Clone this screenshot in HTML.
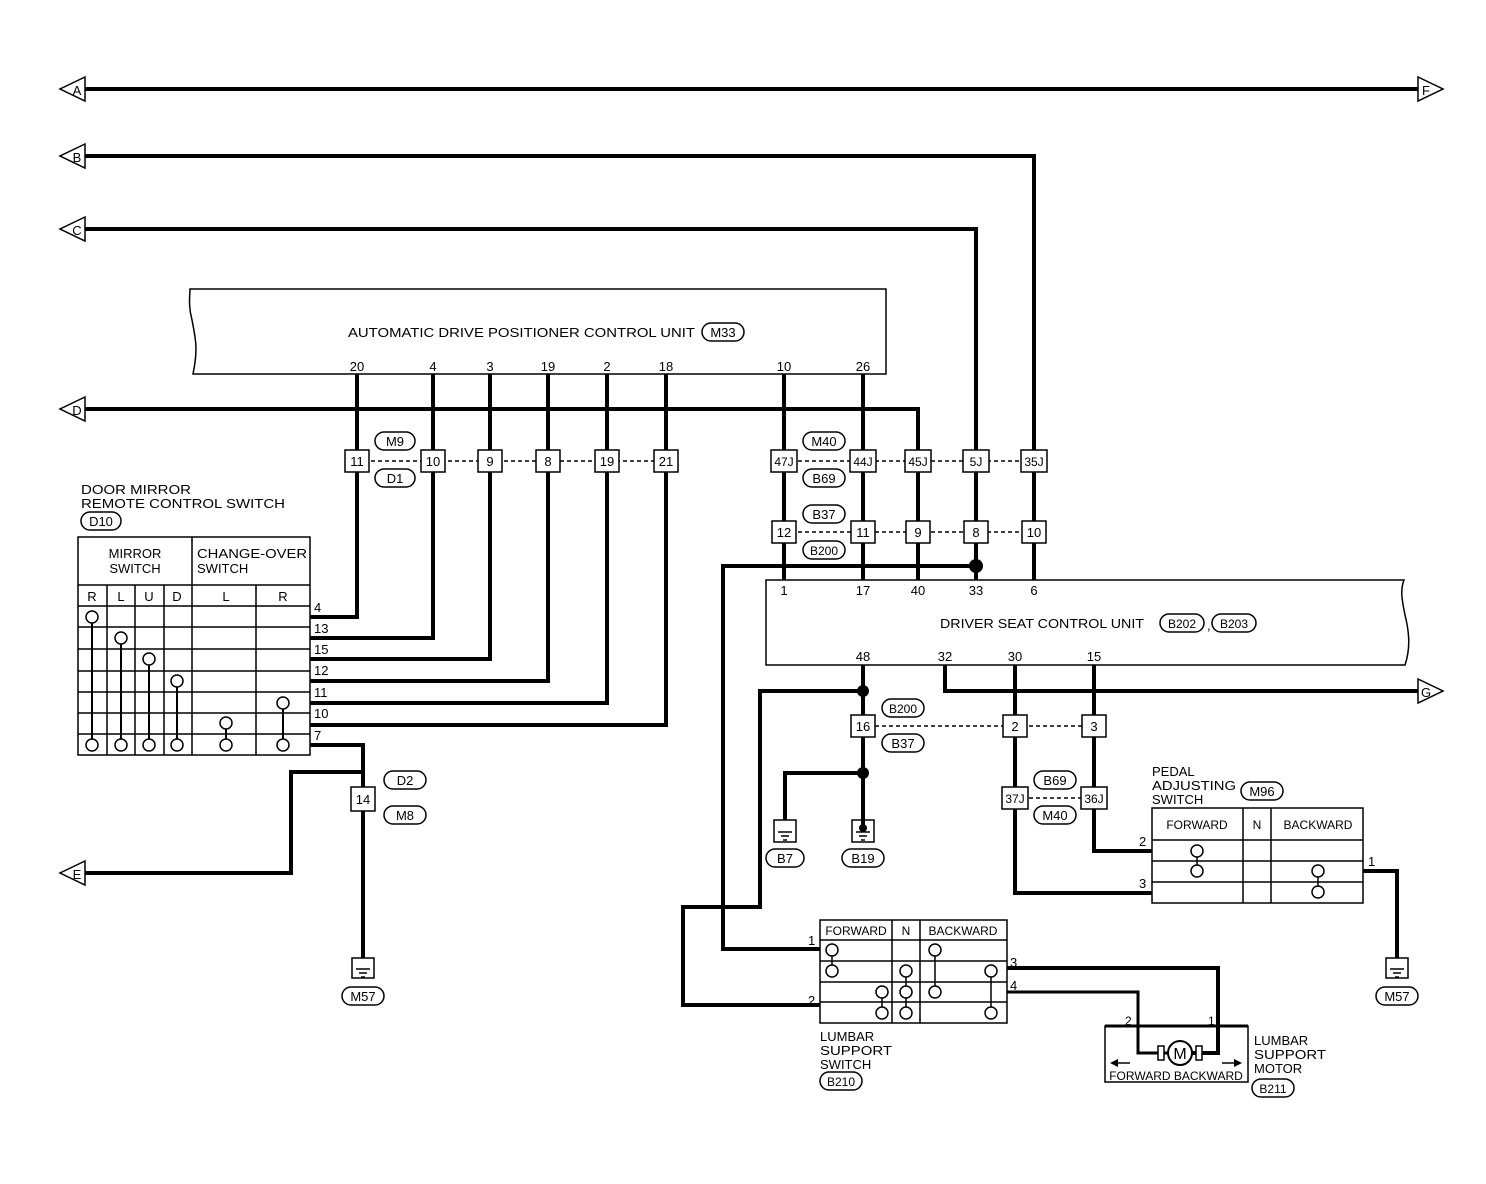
<!DOCTYPE html>
<html><head><meta charset="utf-8"><style>
html,body{margin:0;padding:0;background:#fff;}
svg{display:block;}
text{font-family:"Liberation Sans",sans-serif;font-size:13px;fill:#000;}
.w{stroke:#000;stroke-width:4;fill:none;}
.t{stroke:#000;stroke-width:1.5;fill:none;}
.d{stroke:#000;stroke-width:1.5;stroke-dasharray:4,3;fill:none;}
.bx{stroke:#000;stroke-width:1.5;fill:#fff;}
.c{stroke:#000;stroke-width:1.5;fill:#fff;}
.m{text-anchor:middle;}
</style></head><body>
<svg width="1486" height="1184" viewBox="0 0 1486 1184" xmlns="http://www.w3.org/2000/svg">
<path class="w" d="M85 89H1418"/>
<path class="w" d="M85 156H1034V450"/>
<path class="w" d="M85 229H976V450"/>
<path class="w" d="M85 409H918V450"/>
<path class="w" d="M85 873H291V772H363"/>
<path class="w" d="M945 665V691H1418"/>
<g class="t">
<path d="M85 77L60 89L85 101Z" fill="#fff"/>
<path d="M85 144L60 156L85 168Z" fill="#fff"/>
<path d="M85 217L60 229L85 241Z" fill="#fff"/>
<path d="M85 397L60 409L85 421Z" fill="#fff"/>
<path d="M85 861L60 873L85 885Z" fill="#fff"/>
<path d="M1418 77L1443 89L1418 101Z" fill="#fff"/>
<path d="M1418 679L1443 691L1418 703Z" fill="#fff"/>
</g>
<text x="77" y="95" class="m" style="font-size:13px">A</text>
<text x="77" y="162" class="m" style="font-size:13px">B</text>
<text x="77" y="235" class="m" style="font-size:13px">C</text>
<text x="77" y="415" class="m" style="font-size:13px">D</text>
<text x="77" y="879" class="m" style="font-size:13px">E</text>
<text x="1426" y="95" class="m" style="font-size:13px">F</text>
<text x="1426" y="697" class="m" style="font-size:13px">G</text>

<path class="t" d="M190 289H886V374H193 C198 350,196 340,192 320 C188 305,190 295,190 289Z" fill="#fff"/>
<text x="348" y="337" textLength="347" lengthAdjust="spacingAndGlyphs">AUTOMATIC DRIVE POSITIONER CONTROL UNIT</text>
<rect class="t" x="702" y="323" width="42" height="18" rx="9"/>
<text x="723" y="337" class="m">M33</text>
<g class="m">
<text x="357" y="371">20</text><text x="433" y="371">4</text><text x="490" y="371">3</text>
<text x="548" y="371">19</text><text x="607" y="371">2</text><text x="666" y="371">18</text>
<text x="784" y="371">10</text><text x="863" y="371">26</text>
</g>
<path class="w" d="M357 374V617H310"/>
<path class="w" d="M433 374V638H310"/>
<path class="w" d="M490 374V659H310"/>
<path class="w" d="M548 374V681H310"/>
<path class="w" d="M607 374V703H310"/>
<path class="w" d="M666 374V725H310"/>
<path class="w" d="M310 745H363V958"/>
<path class="d" d="M357 461H666"/>
<g class="bx">
<rect x="345" y="450" width="24" height="22"/><rect x="421" y="450" width="24" height="22"/>
<rect x="478" y="450" width="24" height="22"/><rect x="536" y="450" width="24" height="22"/>
<rect x="595" y="450" width="24" height="22"/><rect x="654" y="450" width="24" height="22"/>
</g>
<g class="m">
<text x="357" y="466">11</text><text x="433" y="466">10</text><text x="490" y="466">9</text>
<text x="548" y="466">8</text><text x="607" y="466">19</text><text x="666" y="466">21</text>
</g>
<rect class="c" x="375" y="432" width="40" height="18" rx="9"/><text x="395" y="446" class="m">M9</text>
<rect class="c" x="375" y="469" width="40" height="18" rx="9"/><text x="395" y="483" class="m">D1</text>

<path class="w" d="M784 374V580"/>
<path class="w" d="M863 374V580"/>
<path class="w" d="M918 450V580"/>
<path class="w" d="M976 450V580"/>
<path class="w" d="M1034 450V580"/>
<path class="d" d="M784 461H1034"/>
<path class="d" d="M784 532H1034"/>
<g class="bx">
<rect x="771" y="450" width="26" height="22"/><rect x="850" y="450" width="26" height="22"/>
<rect x="905" y="450" width="26" height="22"/><rect x="963" y="450" width="26" height="22"/>
<rect x="1021" y="450" width="26" height="22"/>
<rect x="772" y="521" width="24" height="22"/><rect x="851" y="521" width="24" height="22"/>
<rect x="906" y="521" width="24" height="22"/><rect x="964" y="521" width="24" height="22"/>
<rect x="1022" y="521" width="24" height="22"/>
</g>
<g class="m">
<text x="784" y="466" style="font-size:12px">47J</text><text x="863" y="466" style="font-size:12px">44J</text>
<text x="918" y="466" style="font-size:12px">45J</text><text x="976" y="466" style="font-size:12px">5J</text>
<text x="1034" y="466" style="font-size:12px">35J</text>
</g>
<g class="m">
<text x="784" y="537">12</text><text x="863" y="537">11</text><text x="918" y="537">9</text>
<text x="976" y="537">8</text><text x="1034" y="537">10</text>
</g>
<rect class="c" x="803" y="432" width="42" height="18" rx="9"/><text x="824" y="446" class="m">M40</text>
<rect class="c" x="803" y="469" width="42" height="18" rx="9"/><text x="824" y="483" class="m">B69</text>
<rect class="c" x="803" y="505" width="42" height="18" rx="9"/><text x="824" y="519" class="m">B37</text>
<rect class="c" x="803" y="541" width="42" height="18" rx="9"/><text x="824" y="555" class="m" style="font-size:12px">B200</text>

<path class="w" d="M976 566H723V949H820"/>
<circle cx="976" cy="566" r="7" fill="#000"/>

<path class="t" d="M766 580H1404 C1400 590,1402 600,1405 615 C1410 635,1410 650,1405 665H766Z" fill="#fff"/>
<g class="m">
<text x="784" y="595">1</text><text x="863" y="595">17</text><text x="918" y="595">40</text>
<text x="976" y="595">33</text><text x="1034" y="595">6</text>
<text x="863" y="661">48</text><text x="945" y="661">32</text><text x="1015" y="661">30</text><text x="1094" y="661">15</text>
</g>
<text x="940" y="628" textLength="204" lengthAdjust="spacingAndGlyphs">DRIVER SEAT CONTROL UNIT</text>
<rect class="c" x="1160" y="614" width="44" height="18" rx="9"/><text x="1182" y="628" class="m" style="font-size:12px">B202</text>
<text x="1207" y="630">,</text>
<rect class="c" x="1212" y="614" width="44" height="18" rx="9"/><text x="1234" y="628" class="m" style="font-size:12px">B203</text>

<path class="w" d="M863 665V819"/>
<path class="w" d="M863 691H760V907H683V1005H820"/>
<circle cx="863" cy="691" r="6" fill="#000"/>
<path class="w" d="M863 773H785V820"/>
<circle cx="863" cy="773" r="6" fill="#000"/>
<rect class="bx" x="851" y="715" width="24" height="22"/><text x="863" y="731" class="m">16</text>
<rect class="c" x="882" y="699" width="42" height="18" rx="9"/><text x="903" y="713" class="m" style="font-size:12px">B200</text>
<rect class="c" x="882" y="734" width="42" height="18" rx="9"/><text x="903" y="748" class="m">B37</text>
<path class="d" d="M875 726H1082"/>
<path class="w" d="M1015 665V893H1152"/>
<path class="w" d="M1094 665V851H1152"/>
<rect class="bx" x="1003" y="715" width="24" height="22"/><text x="1015" y="731" class="m">2</text>
<rect class="bx" x="1082" y="715" width="24" height="22"/><text x="1094" y="731" class="m">3</text>
<path class="d" d="M1015 798H1094"/>
<rect class="bx" x="1002" y="787" width="26" height="22"/><text x="1015" y="803" class="m" style="font-size:12px">37J</text>
<rect class="bx" x="1081" y="787" width="26" height="22"/><text x="1094" y="803" class="m" style="font-size:12px">36J</text>
<rect class="c" x="1034" y="771" width="42" height="18" rx="9"/><text x="1055" y="785" class="m">B69</text>
<rect class="c" x="1034" y="806" width="42" height="18" rx="9"/><text x="1055" y="820" class="m">M40</text>

<g class="t">
<rect x="774" y="820" width="22" height="22" fill="#fff"/><path d="M778 832H792M781 836H789M783 840H787"/>
<rect x="852" y="820" width="22" height="22" fill="#fff"/><path d="M856 832H870M859 836H867M861 840H865"/>
<rect x="352" y="958" width="22" height="20" fill="#fff"/><path d="M356 969H370M359 973H367M361 977H365"/>
<rect x="1386" y="958" width="22" height="20" fill="#fff"/><path d="M1390 969H1404M1393 973H1401M1395 977H1399"/>
</g>
<path class="w" d="M863 819V828"/>
<circle cx="863" cy="828" r="4" fill="#000"/>
<rect class="c" x="766" y="849" width="38" height="18" rx="9"/><text x="785" y="863" class="m">B7</text>
<rect class="c" x="842" y="849" width="42" height="18" rx="9"/><text x="863" y="863" class="m">B19</text>
<rect class="c" x="342" y="987" width="42" height="18" rx="9"/><text x="363" y="1001" class="m">M57</text>
<rect class="c" x="1376" y="987" width="42" height="18" rx="9"/><text x="1397" y="1001" class="m">M57</text>

<rect class="bx" x="351" y="787" width="24" height="24"/><text x="363" y="804" class="m">14</text>
<rect class="c" x="384" y="771" width="42" height="18" rx="9"/><text x="405" y="785" class="m">D2</text>
<rect class="c" x="384" y="806" width="42" height="18" rx="9"/><text x="405" y="820" class="m">M8</text>

<text x="81" y="494" textLength="110" lengthAdjust="spacingAndGlyphs">DOOR MIRROR</text>
<text x="81" y="508" textLength="204" lengthAdjust="spacingAndGlyphs">REMOTE CONTROL SWITCH</text>
<rect class="c" x="81" y="512" width="40" height="18" rx="9"/><text x="101" y="526" class="m">D10</text>
<g class="t">
<rect x="78" y="537" width="232" height="218" fill="#fff"/>
<path d="M192 537V755M78 585H310M78 606H310M78 627H310M78 649H310M78 671H310M78 692H310M78 713H310M78 734H310"/>
<path d="M107 585V755M135 585V755M164 585V755M256 585V755"/>
</g>
<text x="135" y="558" class="m">MIRROR</text><text x="135" y="573" class="m">SWITCH</text>
<text x="197" y="558" textLength="110" lengthAdjust="spacingAndGlyphs">CHANGE-OVER</text><text x="197" y="573">SWITCH</text>
<g class="m" style="font-size:12px">
<text x="92" y="601">R</text><text x="121" y="601">L</text><text x="149" y="601">U</text><text x="177" y="601">D</text>
<text x="226" y="601">L</text><text x="283" y="601">R</text>
</g>
<g class="t"><path d="M92 617V745M121 638V745M149 659V745M177 681V745M226 723V745M283 703V745" style="stroke-width:2"/></g>
<g class="c">
<circle cx="92" cy="617" r="6"/><circle cx="121" cy="638" r="6"/><circle cx="149" cy="659" r="6"/><circle cx="177" cy="681" r="6"/>
<circle cx="283" cy="703" r="6"/><circle cx="226" cy="723" r="6"/>
<circle cx="92" cy="745" r="6"/><circle cx="121" cy="745" r="6"/><circle cx="149" cy="745" r="6"/><circle cx="177" cy="745" r="6"/>
<circle cx="226" cy="745" r="6"/><circle cx="283" cy="745" r="6"/>
</g>
<g style="font-size:12px">
<text x="314" y="612">4</text><text x="314" y="633">13</text><text x="314" y="654">15</text><text x="314" y="675">12</text>
<text x="314" y="697">11</text><text x="314" y="718">10</text><text x="314" y="740">7</text>
</g>

<text x="1152" y="776">PEDAL</text><text x="1152" y="790" textLength="84" lengthAdjust="spacingAndGlyphs">ADJUSTING</text><text x="1152" y="804">SWITCH</text>
<rect class="c" x="1241" y="782" width="42" height="18" rx="9"/><text x="1262" y="796" class="m">M96</text>
<g class="t">
<rect x="1152" y="808" width="211" height="95" fill="#fff"/>
<path d="M1152 840H1363M1152 861H1363M1152 882H1363M1243 808V903M1271 808V903"/>
<path d="M1197 851V871M1318 871V892"/>
</g>
<text x="1197" y="829" class="m" style="font-size:12px">FORWARD</text>
<text x="1257" y="829" class="m" style="font-size:12px">N</text>
<text x="1318" y="829" class="m" style="font-size:12px">BACKWARD</text>
<g class="c"><circle cx="1197" cy="851" r="6"/><circle cx="1197" cy="871" r="6"/><circle cx="1318" cy="871" r="6"/><circle cx="1318" cy="892" r="6"/></g>
<text x="1139" y="846">2</text><text x="1139" y="888">3</text><text x="1368" y="866">1</text>
<path class="w" d="M1363 871H1397V958"/>

<g class="t">
<rect x="820" y="920" width="187" height="103" fill="#fff"/>
<path d="M820 940H1007M820 961H1007M820 982H1007M820 1002H1007M892 920V1023M920 920V1023"/>
<path d="M832 950V971M882 992V1013M906 971V1013M935 950V992M991 971V1013"/>
</g>
<text x="856" y="935" class="m" style="font-size:12px">FORWARD</text>
<text x="906" y="935" class="m" style="font-size:12px">N</text>
<text x="963" y="935" class="m" style="font-size:12px">BACKWARD</text>
<g class="c">
<circle cx="832" cy="950" r="6"/><circle cx="832" cy="971" r="6"/>
<circle cx="882" cy="992" r="6"/><circle cx="882" cy="1013" r="6"/>
<circle cx="906" cy="971" r="6"/><circle cx="906" cy="992" r="6"/><circle cx="906" cy="1013" r="6"/>
<circle cx="935" cy="950" r="6"/><circle cx="935" cy="992" r="6"/>
<circle cx="991" cy="971" r="6"/><circle cx="991" cy="1013" r="6"/>
</g>
<text x="808" y="945">1</text><text x="808" y="1005">2</text>
<text x="1010" y="967">3</text><text x="1010" y="990">4</text>
<text x="820" y="1041">LUMBAR</text><text x="820" y="1055" textLength="72" lengthAdjust="spacingAndGlyphs">SUPPORT</text><text x="820" y="1069">SWITCH</text>
<rect class="c" x="820" y="1072" width="42" height="18" rx="9"/><text x="841" y="1086" class="m" style="font-size:12px">B210</text>

<path class="w" d="M1007 968H1218V1053H1192"/>
<path class="w" d="M1007 992H1138V1053H1168" style="stroke-width:3"/>
<path class="w" d="M1218 1053H1192" style="stroke-width:3"/>
<rect class="t" x="1105" y="1026" width="143" height="56" fill="none"/>
<path class="w" d="M1105 1026H1248" style="stroke-width:3"/>
<rect class="bx" x="1158" y="1046" width="6" height="14"/><rect class="bx" x="1196" y="1046" width="6" height="14"/>
<circle class="c" cx="1180" cy="1053" r="12" style="stroke-width:2"/>
<text x="1180" y="1059" class="m" style="font-size:16px">M</text>
<path class="t" d="M1112 1063H1130M1222 1063H1240"/>
<path d="M1110 1063L1118 1059V1067Z M1242 1063L1234 1059V1067Z" fill="#000"/>
<text x="1176" y="1080" class="m" style="font-size:12px">FORWARD BACKWARD</text>
<text x="1125" y="1025" style="font-size:12px">2</text><text x="1208" y="1025" style="font-size:12px">1</text>
<text x="1254" y="1045">LUMBAR</text><text x="1254" y="1059" textLength="72" lengthAdjust="spacingAndGlyphs">SUPPORT</text><text x="1254" y="1073">MOTOR</text>
<rect class="c" x="1252" y="1079" width="42" height="18" rx="9"/><text x="1273" y="1093" class="m" style="font-size:12px">B211</text>
</svg>
</body></html>
